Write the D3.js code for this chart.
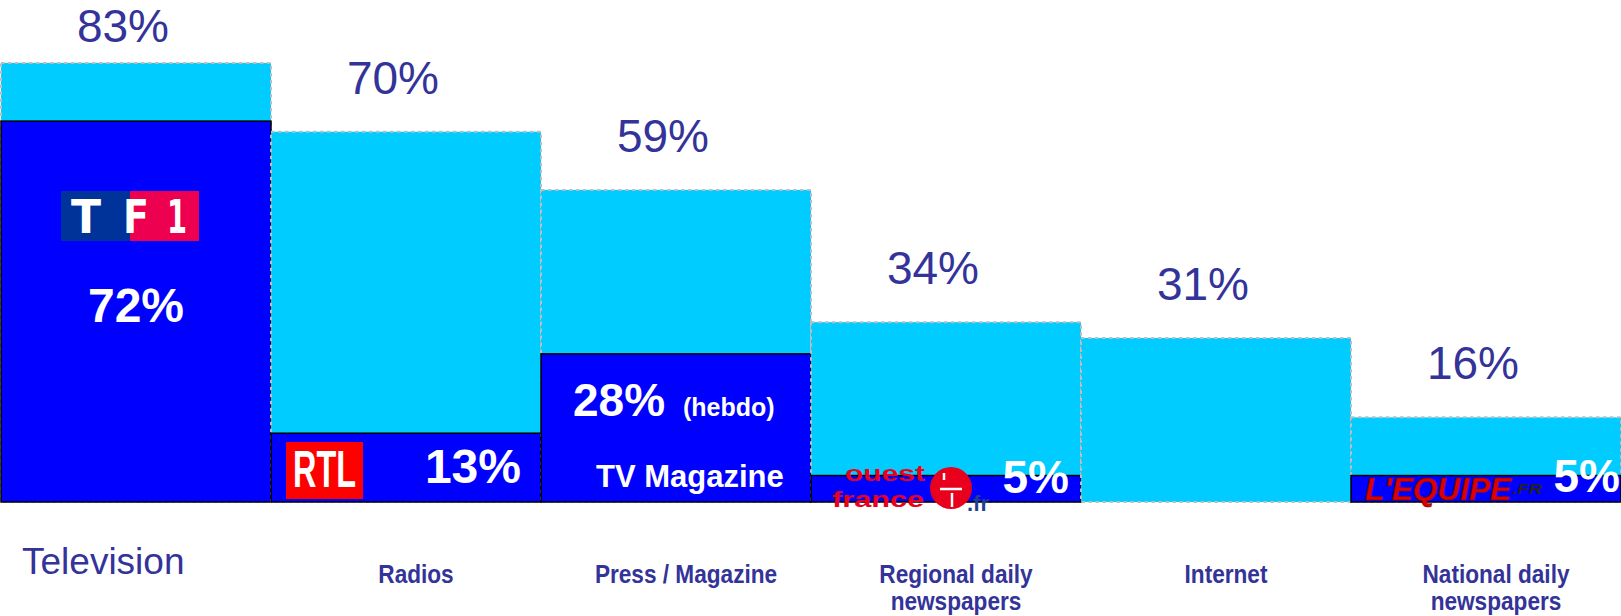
<!DOCTYPE html>
<html>
<head>
<meta charset="UTF-8">
<title>Audience by media</title>
<script src="https://cdn.jsdelivr.net/npm/d3@7/dist/d3.min.js"></script>
<style>
	html, body { margin: 0; padding: 0; background: #ffffff; }
	svg { display: block; font-family: "Liberation Sans", Arial, sans-serif; }
</style>
</head>
<body>
<div id="chart"></div>
<script>
	// media categories and their label lines
	var categories = ["Television", "Radios", "Press / Magazine", "Regional daily newspapers", "Internet", "National daily newspapers"];
	var categoryLines = [["Television"], ["Radios"], ["Press / Magazine"], ["Regional daily", "newspapers"], ["Internet"], ["National daily", "newspapers"]];
	// total reach of each medium (%)
	var totalReach = [83, 70, 59, 34, 31, 16];
	// reach of the leading title of each medium (%), null when none shown
	var leaderReach = [72, 13, 28, 5, null, 5];
	var leaderNames = ["TF1", "RTL", "TV Magazine", "Ouest-France", "", "L'Equipe"];

	var W = 1621, H = 616;
	var labelBlue = "#333399";

	var svg = d3.select("#chart").append("svg")
		.attr("width", W)
		.attr("height", H);

	var x = d3.scaleBand()
		.domain(categories)
		.range([1, 1621])
		.padding(0);

	// 0 at the baseline, 83% reaches y=63
	var y = d3.scaleLinear()
		.domain([0, 100])
		.range([502, -27]);

	var bw = x.bandwidth();

	// bars, one category after another (the next cyan bar overlaps the previous edge)
	categories.forEach(function(c, i)
	{
		var g = svg.append("g").attr("class", "bar");
		g.append("rect")
			.attr("x", x(c))
			.attr("y", y(totalReach[i]))
			.attr("width", bw)
			.attr("height", y(0) - y(totalReach[i]))
			.attr("fill", "#00ccff")
			.attr("stroke", "#bdbdbd")
			.attr("stroke-width", 2)
			.attr("stroke-dasharray", "3.5,3.5");
		if (leaderReach[i] != null)
		{
			g.append("rect")
				.attr("x", x(c))
				.attr("y", y(leaderReach[i]))
				.attr("width", bw)
				.attr("height", y(0) - y(leaderReach[i]))
				.attr("fill", "#0000ff")
				.attr("stroke", "#000000")
				.attr("stroke-width", 1.5);
		}
	});

	// total labels above bars
	svg.selectAll("text.total")
		.data(totalReach)
		.enter().append("text")
		.attr("class", "total")
		.attr("x", function(d, i) { return x(categories[i]) + bw / 2 - 13; })
		.attr("y", function(d) { return Math.max(42, y(d) - 38); })
		.attr("text-anchor", "middle")
		.attr("font-size", 46)
		.attr("fill", labelBlue)
		.text(function(d) { return d + "%"; });

	// category labels under the axis
	categories.forEach(function(c, i)
	{
		if (i === 0)
		{
			svg.append("text")
				.attr("x", x(c) + 21)
				.attr("y", 574)
				.attr("font-size", 37)
				.attr("fill", labelBlue)
				.text(categoryLines[i][0]);
			return;
		}
		categoryLines[i].forEach(function(line, k)
		{
			svg.append("text")
				.attr("transform", "translate(" + (x(c) + bw / 2 + 10) + "," + (583 + k * 27) + ") scale(0.87,1)")
				.attr("text-anchor", "middle")
				.attr("font-size", 26)
				.attr("font-weight", "bold")
				.attr("fill", labelBlue)
				.text(line);
		});
	});

	function whiteText(tx, ty, txt, size, anchor)
	{
		return svg.append("text")
			.attr("x", tx)
			.attr("y", ty)
			.attr("text-anchor", anchor || "middle")
			.attr("font-size", size)
			.attr("font-weight", "bold")
			.attr("fill", "#ffffff")
			.text(txt);
	}

	// --- Television / TF1
	var x0 = x(categories[0]);
	var tf1 = svg.append("g").attr("transform", "translate(" + (x0 + 60) + ",191)");
	tf1.append("rect").attr("width", 70).attr("height", 50).attr("fill", "#003399");
	tf1.append("rect").attr("x", 69).attr("width", 69).attr("height", 50).attr("fill", "#ee0050");
	[["T", 25, 30], ["F", 75, 26], ["1", 116, 20]].forEach(function(l)
	{
		tf1.append("text")
			.attr("x", l[1] - l[2] / 2).attr("y", 42)
			.attr("textLength", l[2])
			.attr("lengthAdjust", "spacingAndGlyphs")
			.attr("font-family", "DejaVu Sans")
			.attr("font-size", 46)
			.attr("font-weight", "bold")
			.attr("fill", "#ffffff")
			.text(l[0]);
	});
	whiteText(x0 + bw / 2, 322, leaderReach[0] + "%", 48);

	// --- Radios / RTL
	x0 = x(categories[1]);
	var rtl = svg.append("g").attr("transform", "translate(" + (x0 + 15) + ",442)");
	rtl.append("rect").attr("width", 77).attr("height", 57).attr("fill", "#ff0000");
	rtl.append("text")
		.attr("x", 7).attr("y", 45)
		.attr("textLength", 63)
		.attr("lengthAdjust", "spacingAndGlyphs")
		.attr("font-size", 52)
		.attr("font-weight", "bold")
		.attr("fill", "#ffffff")
		.text("RTL");
	whiteText(x0 + bw - 20, 483, leaderReach[1] + "%", 48, "end");

	// --- Press / TV Magazine
	x0 = x(categories[2]);
	whiteText(x0 + 32, 416, leaderReach[2] + "%", 46, "start");
	whiteText(x0 + 142, 416, "(hebdo)", 25, "start");
	whiteText(x0 + 55, 487, leaderNames[2], 31, "start");

	// --- Regional / Ouest-France logo
	x0 = x(categories[3]);
	var of = svg.append("g").attr("transform", "translate(" + (x0 + 21) + ",463)");
	of.append("text")
		.attr("x", 13).attr("y", 18)
		.attr("textLength", 80)
		.attr("lengthAdjust", "spacingAndGlyphs")
		.attr("font-size", 22)
		.attr("font-weight", "bold")
		.attr("fill", "#e8001c")
		.text("ouest");
	of.append("text")
		.attr("x", 0).attr("y", 44)
		.attr("textLength", 92)
		.attr("lengthAdjust", "spacingAndGlyphs")
		.attr("font-size", 22)
		.attr("font-weight", "bold")
		.attr("fill", "#e8001c")
		.text("france");
	of.append("circle").attr("cx", 119).attr("cy", 25).attr("r", 21).attr("fill", "#e8001c");
	of.append("path")
		.attr("d", "M112,10 L112,17 M108,26 L130,26 M120,30 L120,44")
		.attr("stroke", "#ffffff")
		.attr("stroke-width", 2.5)
		.attr("fill", "none");
	of.append("text")
		.attr("x", 135).attr("y", 48)
		.attr("font-size", 22)
		.attr("font-weight", "bold")
		.attr("fill", "#1f3f8f")
		.text(".fr");
	whiteText(x0 + bw - 12, 493, leaderReach[3] + "%", 46, "end");

	// --- National / L'Equipe
	x0 = x(categories[5]);
	var eq = svg.append("g").attr("transform", "translate(" + (x0 + 14) + ",475)");
	eq.append("text")
		.attr("x", 0).attr("y", 25)
		.attr("textLength", 146)
		.attr("lengthAdjust", "spacingAndGlyphs")
		.attr("font-size", 32)
		.attr("font-weight", "bold")
		.attr("font-style", "italic")
		.attr("fill", "#dd0000")
		.attr("stroke", "#7a0000")
		.attr("stroke-width", 0.6)
		.text("L'EQUIPE");
	eq.append("text")
		.attr("x", 147).attr("y", 19)
		.attr("textLength", 30)
		.attr("lengthAdjust", "spacingAndGlyphs")
		.attr("font-size", 15)
		.attr("font-weight", "bold")
		.attr("font-style", "italic")
		.attr("fill", "#222222")
		.text(".FR");
	whiteText(x0 + bw - 1, 492, leaderReach[5] + "%", 46, "end");
</script>
</body>
</html>
